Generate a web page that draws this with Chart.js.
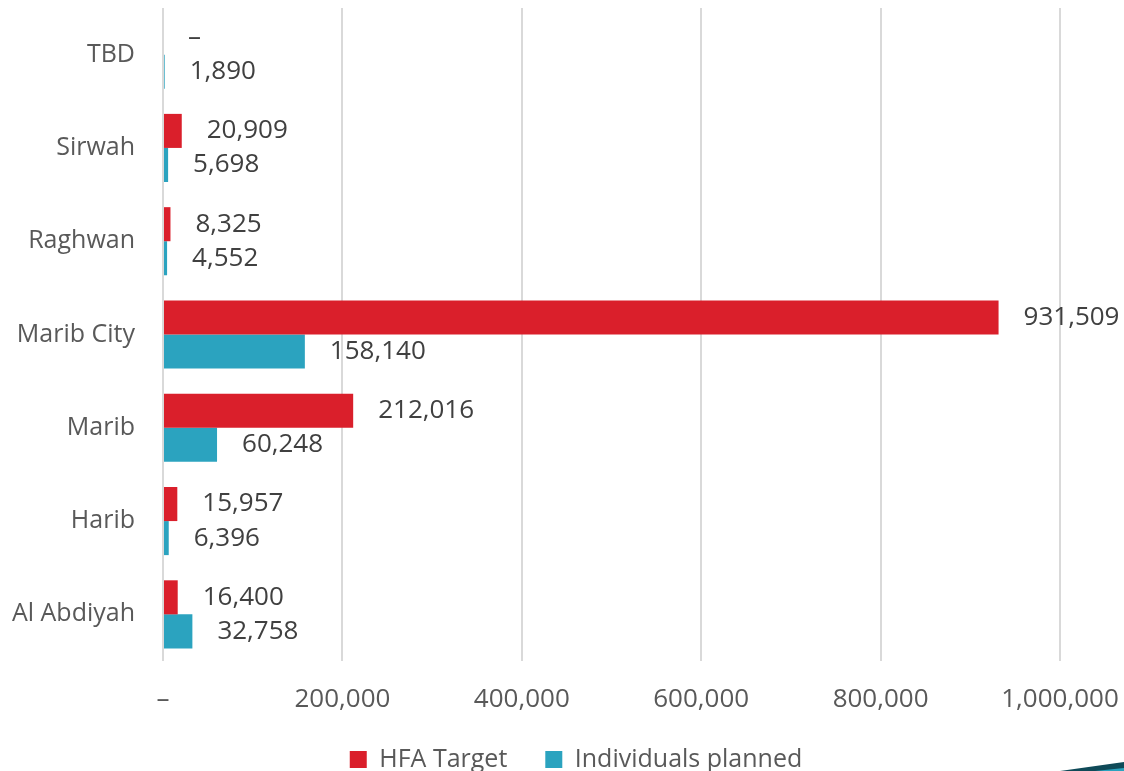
<!DOCTYPE html>
<html>
<head>
<meta charset="utf-8">
<script src="https://cdn.jsdelivr.net/npm/chart.js@4/dist/chart.umd.min.js"></script>
<style>
  html, body { margin: 0; padding: 0; background: #fff; }
  #wrap { width: 1124px; height: 771px; position: relative; }
</style>
</head>
<body>
<div id="wrap"><canvas id="districtChart" width="1124" height="771"></canvas></div>
<script>
const districts = ["TBD", "Sirwah", "Raghwan", "Marib City", "Marib", "Harib", "Al Abdiyah"];
const hfaTarget = [0, 20909, 8325, 931509, 212016, 15957, 16400];
const individualsPlanned = [1890, 5698, 4552, 158140, 60248, 6396, 32758];
const xTicks = [0, 200000, 400000, 600000, 800000, 1000000];

const red = "#da1f2b";
const teal = "#2ba3bf";

function fmt(v) {
  return v === 0 ? "\u2013" : v.toLocaleString("en-US");
}

// draws the value next to each bar
const barLabels = {
  id: "barLabels",
  afterDatasetsDraw(chart) {
    const ctx = chart.ctx;
    ctx.save();
    ctx.font = "26px 'Open Sans'";
    ctx.fillStyle = "#404040";
    ctx.textAlign = "left";
    ctx.textBaseline = "middle";
    chart.data.datasets.forEach((ds, i) => {
      chart.getDatasetMeta(i).data.forEach((bar, j) => {
        ctx.fillText(fmt(ds.data[j]), bar.x + 25, bar.y);
      });
    });
    ctx.restore();
  },
};

// fixed legend height so the plot area lands where the original has it,
// then nudge the legend a bit right and up like the original
const legendPlace = {
  id: "legendPlace",
  beforeUpdate(chart) {
    const lg = chart.legend;
    if (lg && !lg._patched) {
      const fit = lg.fit;
      lg.fit = function () {
        fit.call(this);
        this.height = 48;
      };
      lg._patched = true;
    }
  },
  afterLayout(chart) {
    const lg = chart.legend;
    lg.left += 46;
    lg.right += 46;
    lg.top -= 14;
  },
};

// corner swoosh at the bottom right
const corner = {
  id: "corner",
  afterDraw(chart) {
    const ctx = chart.ctx;
    ctx.save();
    ctx.fillStyle = "#0f4a58";
    ctx.beginPath();
    ctx.moveTo(1060, 771);
    ctx.lineTo(1124, 762);
    ctx.lineTo(1124, 771);
    ctx.closePath();
    ctx.fill();
    ctx.fillStyle = "#2ba3bf";
    ctx.beginPath();
    ctx.moveTo(1095, 771);
    ctx.lineTo(1124, 768);
    ctx.lineTo(1124, 771);
    ctx.closePath();
    ctx.fill();
    ctx.restore();
  },
};

Chart.defaults.font.family = "'Open Sans', sans-serif";
Chart.defaults.color = "#595959";

function noPad(axis) {
  axis.paddingTop = 0;
  axis.paddingBottom = 0;
  axis.paddingLeft = 0;
  axis.paddingRight = 0;
}

new Chart(document.getElementById("districtChart"), {
  type: "bar",
  data: {
    labels: districts,
    datasets: [
      { label: "HFA Target", data: hfaTarget, backgroundColor: red },
      { label: "Individuals planned", data: individualsPlanned, backgroundColor: teal },
    ],
  },
  options: {
    indexAxis: "y",
    responsive: false,
    animation: false,
    devicePixelRatio: 1,
    categoryPercentage: 0.73,
    barPercentage: 1,
    layout: { padding: { top: 8, right: 64, left: 0, bottom: 0 } },
    scales: {
      x: {
        min: 0,
        max: 1000000,
        afterBuildTicks(axis) {
          axis.ticks = xTicks.map((v) => ({ value: v }));
        },
        afterFit(axis) {
          noPad(axis);
          axis.height = 62;
        },
        ticks: {
          font: { size: 26 },
          padding: 23,
          maxRotation: 0,
          callback: (v) => fmt(v),
        },
        grid: { color: "#d9d9d9", lineWidth: 2, drawTicks: false },
        border: { display: false },
      },
      y: {
        afterFit(axis) {
          noPad(axis);
          axis.width = 163;
        },
        ticks: { font: { size: 25 }, padding: 20 },
        grid: { display: false },
        border: { display: false },
      },
    },
    plugins: {
      legend: {
        position: "bottom",
        labels: {
          boxWidth: 17,
          boxHeight: 17,
          padding: 38,
          font: { size: 25 },
          color: "#595959",
        },
      },
      tooltip: { enabled: false },
    },
  },
  plugins: [legendPlace, barLabels, corner],
});
</script>
</body>
</html>
